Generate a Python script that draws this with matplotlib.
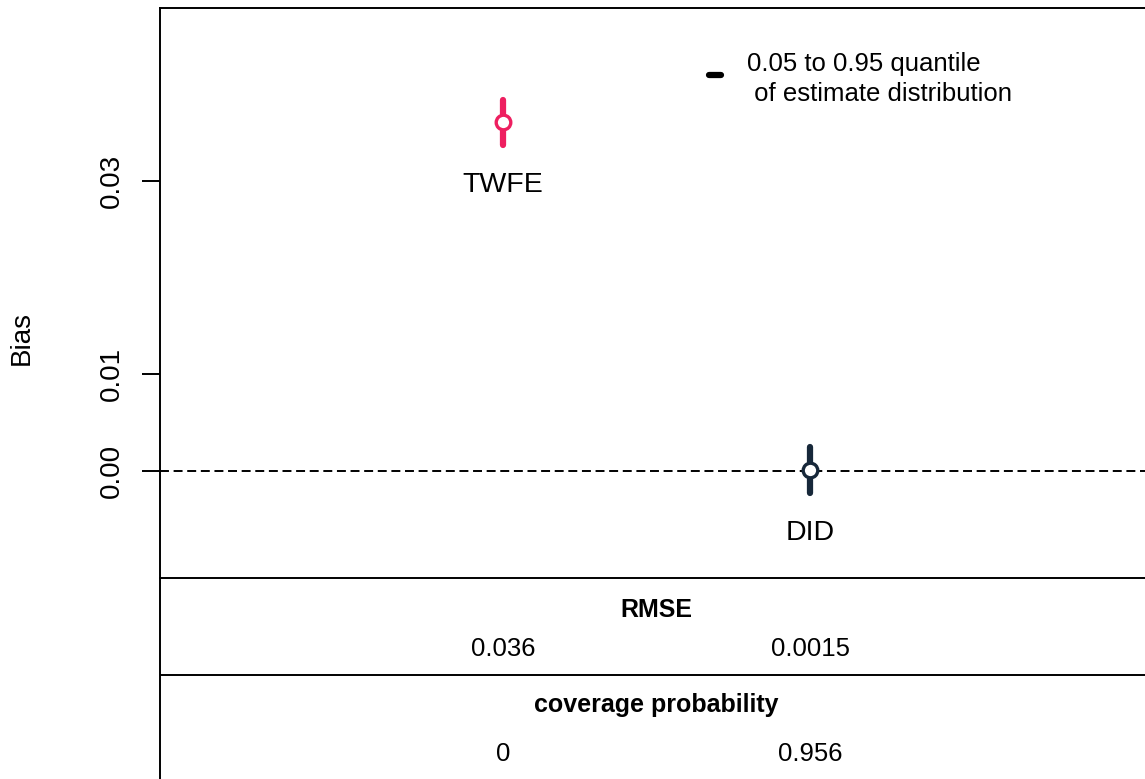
import numpy as np
import matplotlib.pyplot as plt
from matplotlib.lines import Line2D

plt.rcParams['font.family'] = ['Liberation Sans', 'DejaVu Sans']

methods = ["TWFE", "DID"]
bias = [0.0361, 0.0001]
q05 = [0.0337, -0.0023]
q95 = [0.0384, 0.0025]
colors = ["#EE1F60", "#17283A"]
rmse = ["0.036", "0.0015"]
coverage = ["0", "0.956"]
yticks = [0.00, 0.01, 0.03]

W, H = 1145, 779
fig = plt.figure(figsize=(W / 100, H / 100), dpi=100)
LW = 1.4

# main panel: left edge at 160px, top at 8px, bottom at 578px, runs off the right side
left = 160 / W
ax = fig.add_axes([left, 1 - 578 / H, 1 - left, (578 - 8) / H])
pxu = 290 / 0.03            # pixels per unit of bias
ax.set_ylim((471 - 578) / pxu, (471 - 8) / pxu)
xs = np.arange(1, len(methods) + 1)
ax.set_xlim(1 - 343 / 307, 1 + (W - 503) / 307)

ax.spines['right'].set_visible(False)
for s in ['left', 'top', 'bottom']:
    ax.spines[s].set_linewidth(LW)
ax.set_xticks([])
ax.set_yticks(yticks)
ax.set_yticklabels(["%.2f" % t for t in yticks], rotation=90, va='center', fontsize=20)
ax.tick_params(axis='y', length=13, width=LW, pad=12)

ax.axhline(0, color='black', lw=LW, dashes=(4.6, 2.4), zorder=1)

for x, b, lo, hi, c, m in zip(xs, bias, q05, q95, colors, methods):
    ax.plot([x, x], [lo, hi], color=c, lw=4.5, solid_capstyle='round', zorder=3)
    ax.plot(x, b, 'o', ms=10.5, mfc='white', mec=c, mew=2.4, zorder=4)
    ax.annotate(m, (x, b), xytext=(0, -63), textcoords='offset pixels',
                ha='center', va='center', fontsize=20.5)

# legend for the interval bars
fig.add_artist(Line2D([709 / W, 721 / W], [1 - 75 / H, 1 - 75 / H], color='black',
                      lw=4.5, solid_capstyle='round'))
fig.text(747 / W, 1 - 64 / H, "0.05 to 0.95 quantile", fontsize=18.5, va='center', ha='left')
fig.text(747 / W, 1 - 94 / H, " of estimate distribution", fontsize=18.5, va='center', ha='left')

fig.text(22 / W, 1 - 338 / H, "Bias", rotation=90, fontsize=20, ha='center', va='center')

# summary table under the panel
tb = fig.add_axes([left, -0.1, 1 - left, (779 - 578) / H + 0.1], sharex=ax)
tb.set_ylim(779 + 0.1 * H, 578)
for s in ['right', 'top', 'bottom']:
    tb.spines[s].set_visible(False)
tb.spines['left'].set_linewidth(LW)
tb.set_xticks([])
tb.set_yticks([])
tb.patch.set_alpha(0)
tb.axhline(675, color='black', lw=LW)
mid = xs.mean()
tb.text(mid, 610, "RMSE", ha='center', va='center', fontsize=18, fontweight='bold')
tb.text(mid, 705, "coverage probability", ha='center', va='center', fontsize=18, fontweight='bold')
for x, r, cp in zip(xs, rmse, coverage):
    tb.text(x, 649, r, ha='center', va='center', fontsize=18.5)
    tb.text(x, 754, cp, ha='center', va='center', fontsize=18.5)

fig.savefig("out.png", dpi=100)
